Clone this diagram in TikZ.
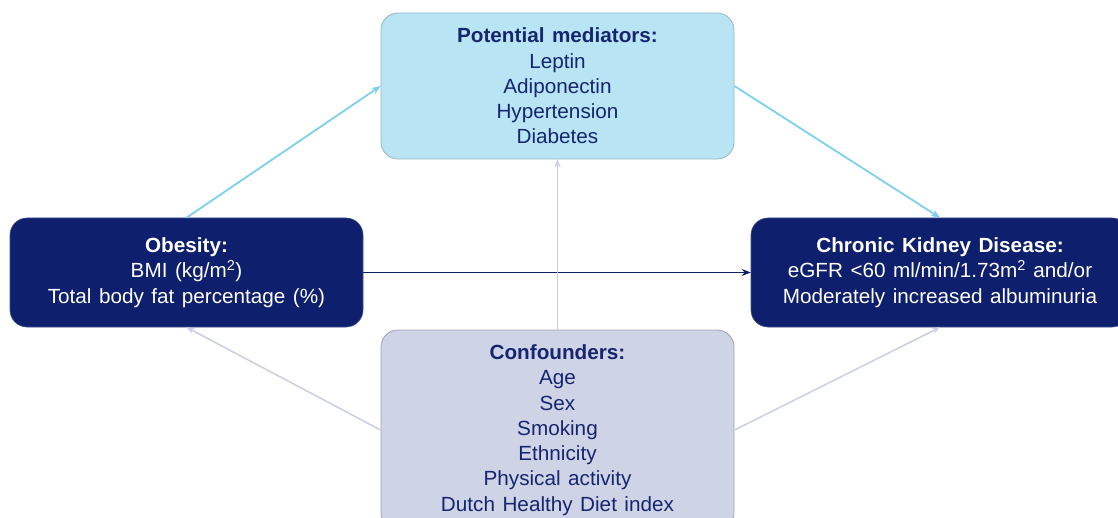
\documentclass[tikz,border=0pt]{standalone}
\usepackage{fontspec}
\setmainfont[WordSpace=1.3,FakeStretch=1.01]{Liberation Sans}
\usetikzlibrary{arrows.meta}
\definecolor{navy}{HTML}{0E1F6E}
\definecolor{navytext}{HTML}{15256F}
\definecolor{medfill}{HTML}{B8E4F4}
\definecolor{medline}{HTML}{93B5C6}
\definecolor{confill}{HTML}{CFD3E6}
\definecolor{conline}{HTML}{9CA1B8}
\definecolor{skyarrow}{HTML}{7DCFEE}
\definecolor{lavarrow}{HTML}{C9CDE8}
\tikzset{
  box/.style={rounded corners=17pt, align=center, inner sep=0pt,
    font=\fontsize{20.5}{25.3}\selectfont},
  darkbox/.style={box, fill=navy, draw=navy!80!white, line width=0.6pt, text=white},
  medbox/.style={box, fill=medfill, draw=medline, line width=0.8pt, text=navytext},
  conbox/.style={box, fill=confill, draw=conline, line width=0.8pt, text=navytext},
  skyarr/.style={draw=skyarrow, line width=1.8pt, -{Stealth[length=9pt,width=7pt]}},
  lavarr/.style={draw=lavarrow, line width=1.5pt, -{Stealth[length=8pt,width=6pt]}},
  navarr/.style={draw=navy, line width=1.6pt, -{Stealth[length=9pt,width=7pt]}}
}
\begin{document}
\begin{tikzpicture}[x=1pt,y=-1pt]
\useasboundingbox (0,0) rectangle (1118,518);
\begin{scope}
\clip (0,0) rectangle (1118,518);
\node[medbox, minimum width=353pt, minimum height=146pt] (med) at (557.5,86)
  {\textbf{Potential mediators:}\\Leptin\\Adiponectin\\Hypertension\\Diabetes};
\node[darkbox, minimum width=353pt, minimum height=109pt] (ob) at (186.5,272.5)
  {\textbf{Obesity:}\\BMI (kg/m\textsuperscript{2})\\Total body fat percentage (\%)};
\node[darkbox, minimum width=378pt, minimum height=109pt] (ckd) at (940,272.5)
  {\textbf{Chronic Kidney Disease:}\\eGFR <60 ml/min/1.73m\textsuperscript{2} and/or\\Moderately increased albuminuria};
\node[conbox, minimum width=353pt, minimum height=200pt] (con) at (557.5,430)
  {\textbf{Confounders:}\\Age\\Sex\\Smoking\\Ethnicity\\Physical activity\\Dutch Healthy Diet index};
\end{scope}
\draw[skyarr] (ob.north) -- (med.west);
\draw[skyarr] (med.east) -- (ckd.north);
\draw[navarr] (ob.east) -- (ckd.west);
\draw[lavarr] (con.north) -- (med.south);
\draw[lavarr] (con.west) -- (ob.south);
\draw[lavarr] (con.east) -- (ckd.south);
\end{tikzpicture}
\end{document}
